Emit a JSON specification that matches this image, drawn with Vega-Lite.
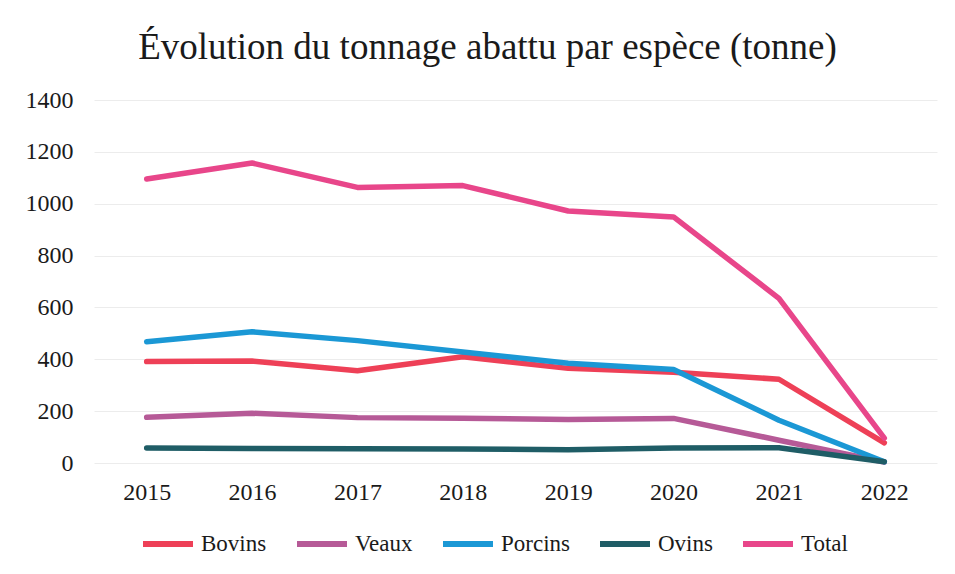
{
  "$schema": "https://vega.github.io/schema/vega-lite/v6.json",
  "autosize": {"type": "none"},
  "width": 843,
  "height": 363,
  "padding": {"left": 94, "top": 100, "right": 18, "bottom": 111},
  "background": "white",
  "config": {"view": {"stroke": null}},
  "title": {
    "text": "Évolution du tonnage abattu par espèce (tonne)",
    "font": "Liberation Serif",
    "fontSize": 37,
    "fontWeight": "normal",
    "color": "#1a1a1a",
    "anchor": "middle",
    "dx": -28,
    "offset": 21
  },
  "data": {
    "values": [
      {"annee": "2015", "espece": "Bovins", "tonnes": 391},
      {"annee": "2016", "espece": "Bovins", "tonnes": 393},
      {"annee": "2017", "espece": "Bovins", "tonnes": 356},
      {"annee": "2018", "espece": "Bovins", "tonnes": 410},
      {"annee": "2019", "espece": "Bovins", "tonnes": 365},
      {"annee": "2020", "espece": "Bovins", "tonnes": 350},
      {"annee": "2021", "espece": "Bovins", "tonnes": 323},
      {"annee": "2022", "espece": "Bovins", "tonnes": 78},
      {"annee": "2015", "espece": "Veaux", "tonnes": 176},
      {"annee": "2016", "espece": "Veaux", "tonnes": 192},
      {"annee": "2017", "espece": "Veaux", "tonnes": 175},
      {"annee": "2018", "espece": "Veaux", "tonnes": 173},
      {"annee": "2019", "espece": "Veaux", "tonnes": 168},
      {"annee": "2020", "espece": "Veaux", "tonnes": 172},
      {"annee": "2021", "espece": "Veaux", "tonnes": 88},
      {"annee": "2022", "espece": "Veaux", "tonnes": 4},
      {"annee": "2015", "espece": "Porcins", "tonnes": 468},
      {"annee": "2016", "espece": "Porcins", "tonnes": 506},
      {"annee": "2017", "espece": "Porcins", "tonnes": 472},
      {"annee": "2018", "espece": "Porcins", "tonnes": 428},
      {"annee": "2019", "espece": "Porcins", "tonnes": 385},
      {"annee": "2020", "espece": "Porcins", "tonnes": 361},
      {"annee": "2021", "espece": "Porcins", "tonnes": 165},
      {"annee": "2022", "espece": "Porcins", "tonnes": 5},
      {"annee": "2015", "espece": "Ovins", "tonnes": 58},
      {"annee": "2016", "espece": "Ovins", "tonnes": 56},
      {"annee": "2017", "espece": "Ovins", "tonnes": 55},
      {"annee": "2018", "espece": "Ovins", "tonnes": 54},
      {"annee": "2019", "espece": "Ovins", "tonnes": 51},
      {"annee": "2020", "espece": "Ovins", "tonnes": 58},
      {"annee": "2021", "espece": "Ovins", "tonnes": 59},
      {"annee": "2022", "espece": "Ovins", "tonnes": 5},
      {"annee": "2015", "espece": "Total", "tonnes": 1095},
      {"annee": "2016", "espece": "Total", "tonnes": 1157},
      {"annee": "2017", "espece": "Total", "tonnes": 1063},
      {"annee": "2018", "espece": "Total", "tonnes": 1070},
      {"annee": "2019", "espece": "Total", "tonnes": 972},
      {"annee": "2020", "espece": "Total", "tonnes": 949},
      {"annee": "2021", "espece": "Total", "tonnes": 635},
      {"annee": "2022", "espece": "Total", "tonnes": 96}
    ]
  },
  "mark": {"type": "line", "strokeWidth": 5.5, "strokeCap": "round", "strokeJoin": "round"},
  "encoding": {
    "x": {
      "field": "annee",
      "type": "ordinal",
      "scale": {"type": "point", "padding": 0.5},
      "axis": {
        "title": null,
        "labelAngle": 0,
        "labelFont": "Liberation Serif",
        "labelFontSize": 24,
        "labelColor": "#1a1a1a",
        "labelPadding": 17,
        "domain": false,
        "ticks": false,
        "grid": false
      }
    },
    "y": {
      "field": "tonnes",
      "type": "quantitative",
      "scale": {"domain": [0, 1400]},
      "axis": {
        "title": null,
        "values": [0, 200, 400, 600, 800, 1000, 1200, 1400],
        "format": "d",
        "labelFont": "Liberation Serif",
        "labelFontSize": 24,
        "labelColor": "#1a1a1a",
        "labelPadding": 21,
        "domain": false,
        "ticks": false,
        "grid": true,
        "gridColor": "#ececec",
        "gridWidth": 1
      }
    },
    "color": {
      "field": "espece",
      "type": "nominal",
      "sort": ["Bovins", "Veaux", "Porcins", "Ovins", "Total"],
      "scale": {
        "domain": ["Bovins", "Veaux", "Porcins", "Ovins", "Total"],
        "range": ["#ee4057", "#b65a97", "#1b98d5", "#1f5d66", "#e8468a"]
      },
      "legend": {
        "title": null,
        "orient": "none",
        "legendX": 46,
        "legendY": 416,
        "direction": "horizontal",
        "symbolType": "stroke",
        "symbolSize": 2500,
        "symbolStrokeWidth": 6,
        "labelFont": "Liberation Serif",
        "labelFontSize": 23,
        "labelColor": "#1a1a1a",
        "labelOffset": 5,
        "columnPadding": 18
      }
    }
  }
}
